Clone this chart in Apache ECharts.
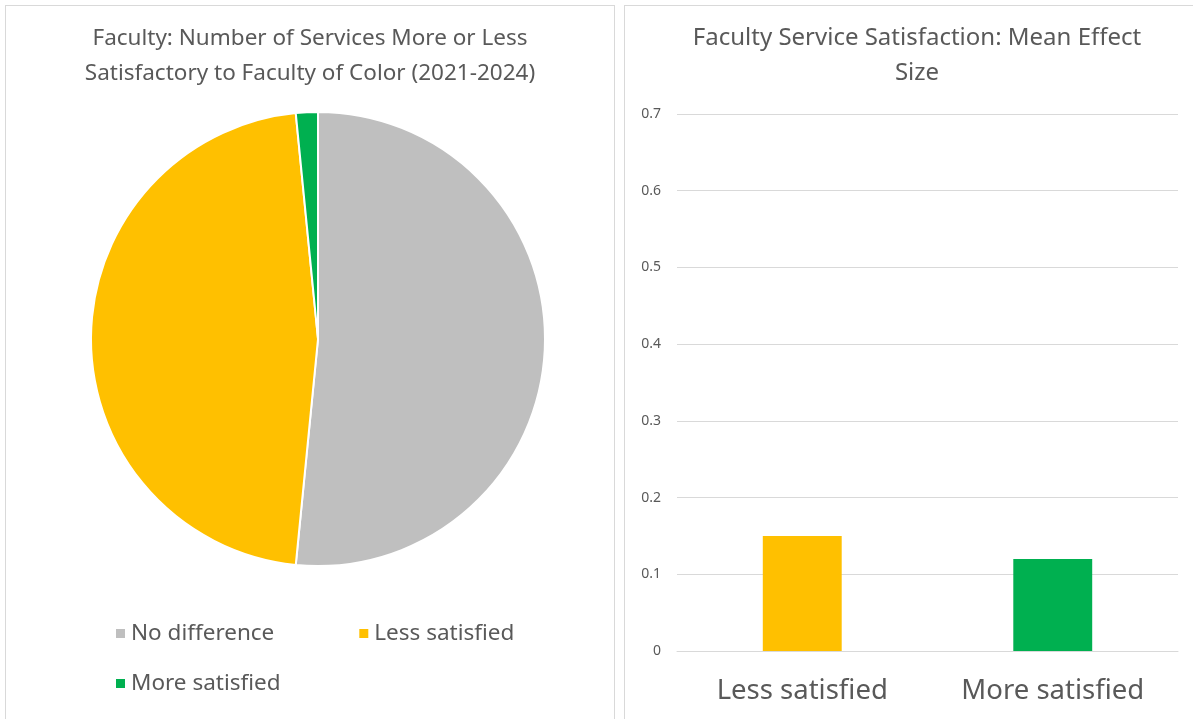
<!DOCTYPE html>
<html>
<head>
<meta charset="utf-8">
<script src="https://cdn.jsdelivr.net/npm/echarts@6/dist/echarts.min.js"></script>
<style>
	html,body{margin:0;padding:0;background:#fff;width:1193px;height:719px;overflow:hidden;}
	.panel{position:absolute;border:1px solid #d9d9d9;box-sizing:border-box;background:#fff;}
	#pie{left:5px;top:5px;width:610px;height:730px;}
	#bar{left:624px;top:5px;width:580px;height:730px;}
</style>
</head>
<body>
<div id="pie" class="panel"></div>
<div id="bar" class="panel"></div>
<script>
	// 饼图数据
	var pieNames = ['No difference','Less satisfied','More satisfied'];
	var pieValues = [33, 30, 1];
	var pieColors = ['#BFBFBF','#FFC000','#00B050'];

	// 柱图数据
	var barCategories = ['Less satisfied','More satisfied'];
	var barValues = [0.15, 0.12];
	var barColors = ['#FFC000','#00B050'];

	var txtColor = '#595959';
	var font = 'Noto Sans';

	var pieChart = echarts.init(document.getElementById('pie'));
	var pieData = [];
	for(var i = 0;i < pieNames.length;i++){
		pieData.push({name:pieNames[i], value:pieValues[i], itemStyle:{color:pieColors[i]}});
	}
	pieChart.setOption({
		animation:false,
		title:{
			text:'Faculty: Number of Services More or Less\nSatisfactory to Faculty of Color (2021-2024)',
			left:'center',
			top:10,
			textStyle:{color:txtColor, fontSize:22.5, fontWeight:'normal', fontFamily:font, lineHeight:35}
		},
		legend:[{
			data:['No difference','Less satisfied'],
			left:103,
			top:611,
			icon:'rect',
			itemWidth:11,
			itemHeight:11,
			itemGap:83,
			textStyle:{color:txtColor, fontSize:22.5, fontFamily:font}
		},{
			data:['More satisfied'],
			left:103,
			top:661,
			icon:'rect',
			itemWidth:11,
			itemHeight:11,
			textStyle:{color:txtColor, fontSize:22.5, fontFamily:font}
		}],
		series:[{
			type:'pie',
			center:[312,333],
			radius:[0,227],
			startAngle:90,
			clockwise:true,
			label:{show:false},
			labelLine:{show:false},
			itemStyle:{borderColor:'#fff', borderWidth:2},
			data:pieData
		}]
	});

	var barChart = echarts.init(document.getElementById('bar'));
	var barData = [];
	for(var i = 0;i < barValues.length;i++){
		barData.push({value:barValues[i], itemStyle:{color:barColors[i]}});
	}
	barChart.setOption({
		animation:false,
		title:{
			text:'Faculty Service Satisfaction: Mean Effect\nSize',
			left:287,
			textAlign:'center',
			top:10,
			textStyle:{color:txtColor, fontSize:24, fontWeight:'normal', fontFamily:font, lineHeight:35}
		},
		grid:{left:52, top:108, width:501, height:537},
		xAxis:{
			type:'category',
			data:barCategories,
			axisLine:{lineStyle:{color:'#d9d9d9'}},
			axisTick:{show:false},
			axisLabel:{color:txtColor, fontSize:27.5, fontFamily:font, margin:26}
		},
		yAxis:{
			type:'value',
			min:0,
			max:0.7,
			interval:0.1,
			axisLine:{show:false},
			axisTick:{show:false},
			splitLine:{lineStyle:{color:'#d9d9d9'}},
			axisLabel:{color:txtColor, fontSize:14, fontFamily:font, margin:16,
				formatter:function(v){ return v === 0 ? '0' : v.toFixed(1); }}
		},
		series:[{
			type:'bar',
			barWidth:'31.5%',
			data:barData
		}]
	});
</script>
</body>
</html>
